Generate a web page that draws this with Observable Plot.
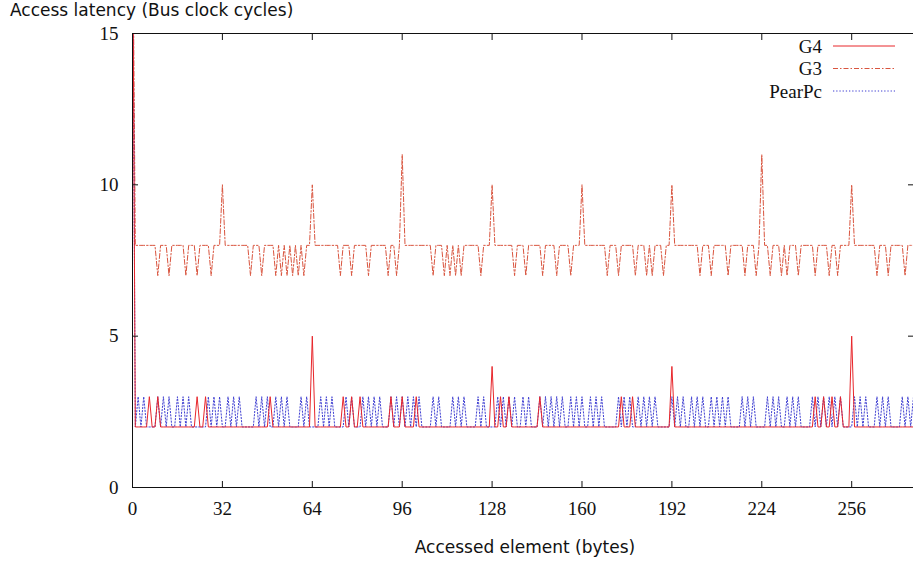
<!DOCTYPE html>
<html>
<head>
<meta charset="utf-8">
<script src="https://cdn.jsdelivr.net/npm/d3@7"></script>
<script src="https://cdn.jsdelivr.net/npm/@observablehq/plot@0.6"></script>
<style>
  body { margin: 0; background: #fff; }
  #wrap { position: relative; width: 913px; height: 563px; overflow: hidden; background: #fff; }
  #title { position: absolute; left: 10px; top: 0px; font: 17px "DejaVu Sans", sans-serif; line-height: 20px; color: #111; white-space: nowrap; }
  #xlabel { position: absolute; left: 325px; width: 400px; top: 537px; text-align: center; font: 17px "DejaVu Sans", sans-serif; color: #111; }
  #chart { position: absolute; left: 0; top: 0; }
  #legend { position: absolute; left: 0; top: 0; }
</style>
</head>
<body>
<div id="wrap">
  <div id="chart"></div>
  <div id="title">Access latency (Bus clock cycles)</div>
  <div id="xlabel">Accessed element (bytes)</div>
  <svg id="legend" width="913" height="120"></svg>
</div>
<script>
// ---- data: one value per accessed byte (0..278) ----
const g4Latency = [
  20,2,2,2,2,2,3,2,2,3,2,2,2,2,2,2,2,2,2,2,2,2,2,3,2,2,3,2,2,2,2,2,
  2,2,2,2,2,2,2,2,2,2,2,2,2,2,2,2,2,3,2,2,2,2,2,2,2,2,2,2,2,2,2,2,
  5,2,2,2,2,2,2,2,2,2,2,3,2,2,3,2,2,3,2,2,2,2,2,2,2,2,2,2,3,2,2,2,
  3,2,2,2,2,3,2,2,2,2,2,2,2,2,2,2,2,2,2,2,2,2,2,2,2,2,2,2,2,2,2,2,
  4,2,2,3,2,2,3,2,2,2,2,2,2,2,2,2,2,3,2,2,2,2,2,2,2,2,2,2,2,2,2,2,
  2,2,2,2,2,2,2,2,2,2,2,2,2,2,3,2,2,2,3,2,2,2,2,2,2,2,2,2,2,2,2,2,
  4,2,2,2,2,2,2,2,2,2,2,2,2,2,2,2,2,2,2,2,2,2,2,2,2,2,2,2,2,2,2,2,
  2,2,2,2,2,2,2,2,2,2,2,2,2,2,2,2,2,2,2,3,2,2,3,2,2,3,2,2,3,2,2,2,
  5,2,2,2,2,2,2,2,2,2,2,2,2,2,2,2,2,2,2,2,2,2,2
];
const g3Latency = [
  20,8,8,8,8,8,8,8,8,7,8,8,8,7,8,8,8,8,8,7,8,8,8,7,8,8,8,8,7,8,8,8,
  10,8,8,8,8,8,8,8,8,8,7,8,8,8,7,8,8,8,8,7,8,7,8,7,8,7,8,7,8,7,8,8,
  10,8,8,8,8,8,8,8,8,8,7,8,8,8,7,8,8,8,8,8,7,8,8,8,8,8,8,7,8,8,7,8,
  11,8,8,8,8,8,8,8,8,8,8,7,8,8,8,7,8,7,8,7,8,7,8,8,8,8,8,8,7,8,8,8,
  10,8,8,8,8,8,8,8,7,8,8,8,7,8,8,8,8,8,7,8,8,8,8,7,8,8,8,8,7,8,8,8,
  10,8,8,8,8,8,8,8,8,7,8,8,8,7,8,8,8,8,8,7,8,8,8,7,8,7,8,8,8,7,8,8,
  10,8,8,8,8,8,8,8,8,8,7,8,8,8,7,8,8,8,8,8,7,8,8,8,8,8,7,8,8,8,7,8,
  11,8,8,7,8,8,8,7,8,7,8,8,8,7,8,8,8,8,8,7,8,8,8,8,7,8,8,7,8,8,8,8,
  10,8,8,8,8,8,8,8,8,7,8,8,8,7,8,8,8,8,8,7,8,8,8
];
const pearPcLatency = [
  20,2,3,2,3,2,2,2,2,3,2,3,2,3,2,2,3,2,3,2,3,2,2,2,2,2,2,3,2,3,2,3,
  2,2,3,2,3,2,3,2,2,2,2,2,3,2,3,2,3,2,2,3,2,3,2,3,2,2,2,2,3,2,3,2,
  2,2,2,3,2,3,2,3,2,2,2,2,3,2,3,2,2,2,3,2,3,2,3,2,3,2,2,2,3,2,3,2,
  3,2,3,2,3,2,3,2,2,2,2,3,2,3,2,2,2,2,3,2,3,2,3,2,2,2,2,3,2,3,2,2,
  2,2,3,2,3,2,3,2,3,2,2,3,2,3,2,2,2,3,2,3,2,3,2,3,2,3,2,2,3,2,3,2,
  3,2,2,3,2,3,2,3,2,2,2,2,2,3,2,3,2,3,2,2,3,2,3,2,3,2,3,2,2,2,2,2,
  3,2,3,2,3,2,2,3,2,3,2,3,2,2,3,2,3,2,3,2,3,2,2,2,2,3,2,3,2,3,2,2,
  2,2,3,2,3,2,3,2,2,3,2,3,2,3,2,2,2,2,3,2,3,2,3,2,3,2,3,2,3,2,2,2,
  2,3,2,3,2,3,2,2,2,3,2,3,2,3,2,2,2,2,3,2,3,2,3
];
const xTicks = [0, 32, 64, 96, 128, 160, 192, 224, 256];
const yTicks = [0, 5, 10, 15];
const seriesNames = ["G4", "G3", "PearPc"];
const seriesColors = ["#e8262b", "#d9553f", "#3f3fd2"];
const seriesDash = [null, "5,2,1.5,2", "1.3,1.9"];

const bytes = d3.range(g4Latency.length);
const rows = bytes.map((x, i) => ({x, g4: g4Latency[i], g3: g3Latency[i], pearpc: pearPcLatency[i]}));

const chart = Plot.plot({
  width: 913, height: 563,
  marginLeft: 132, marginRight: 0, marginTop: 33, marginBottom: 76,
  style: {fontFamily: "'Liberation Serif', serif", fontSize: "19px", color: "#111", background: "transparent"},
  x: {domain: [0, 278]},
  y: {domain: [0, 15]},
  marks: [
    Plot.lineY(rows, {x: "x", y: "g3", stroke: seriesColors[1], strokeWidth: 1, strokeDasharray: seriesDash[1], clip: true}),
    Plot.lineY(rows, {x: "x", y: "pearpc", stroke: seriesColors[2], strokeWidth: 1, strokeDasharray: seriesDash[2], clip: true}),
    Plot.lineY(rows, {x: "x", y: "g4", stroke: seriesColors[0], strokeWidth: 1, clip: true}),
    Plot.ruleY([0, 15], {stroke: "#111"}),
    Plot.ruleX([0], {stroke: "#111"}),
    Plot.axisX({anchor: "bottom", ticks: xTicks, tickSize: -6, tickPadding: 20, label: null}),
    Plot.axisX({anchor: "top", ticks: xTicks, tickSize: -6, tickFormat: () => "", label: null}),
    Plot.axisY({anchor: "left", ticks: yTicks, tickSize: -6, tickPadding: 20, label: null}),
    Plot.axisY({anchor: "right", ticks: yTicks, tickSize: -6, tickFormat: () => "", label: null})
  ]
});
document.getElementById("chart").appendChild(chart);

// legend (top right, inside the plot frame)
const leg = d3.select("#legend");
seriesNames.forEach((name, i) => {
  const cy = 46 + i * 22.5;
  leg.append("text").attr("x", 822).attr("y", cy).attr("dy", "0.35em")
    .attr("text-anchor", "end").attr("font-family", "'Liberation Serif', serif")
    .attr("font-size", 19).attr("fill", "#111").text(name);
  leg.append("line").attr("x1", 833).attr("x2", 895).attr("y1", cy).attr("y2", cy)
    .attr("stroke", seriesColors[i]).attr("stroke-width", 1)
    .attr("stroke-dasharray", seriesDash[i]);
});
</script>
</body>
</html>
